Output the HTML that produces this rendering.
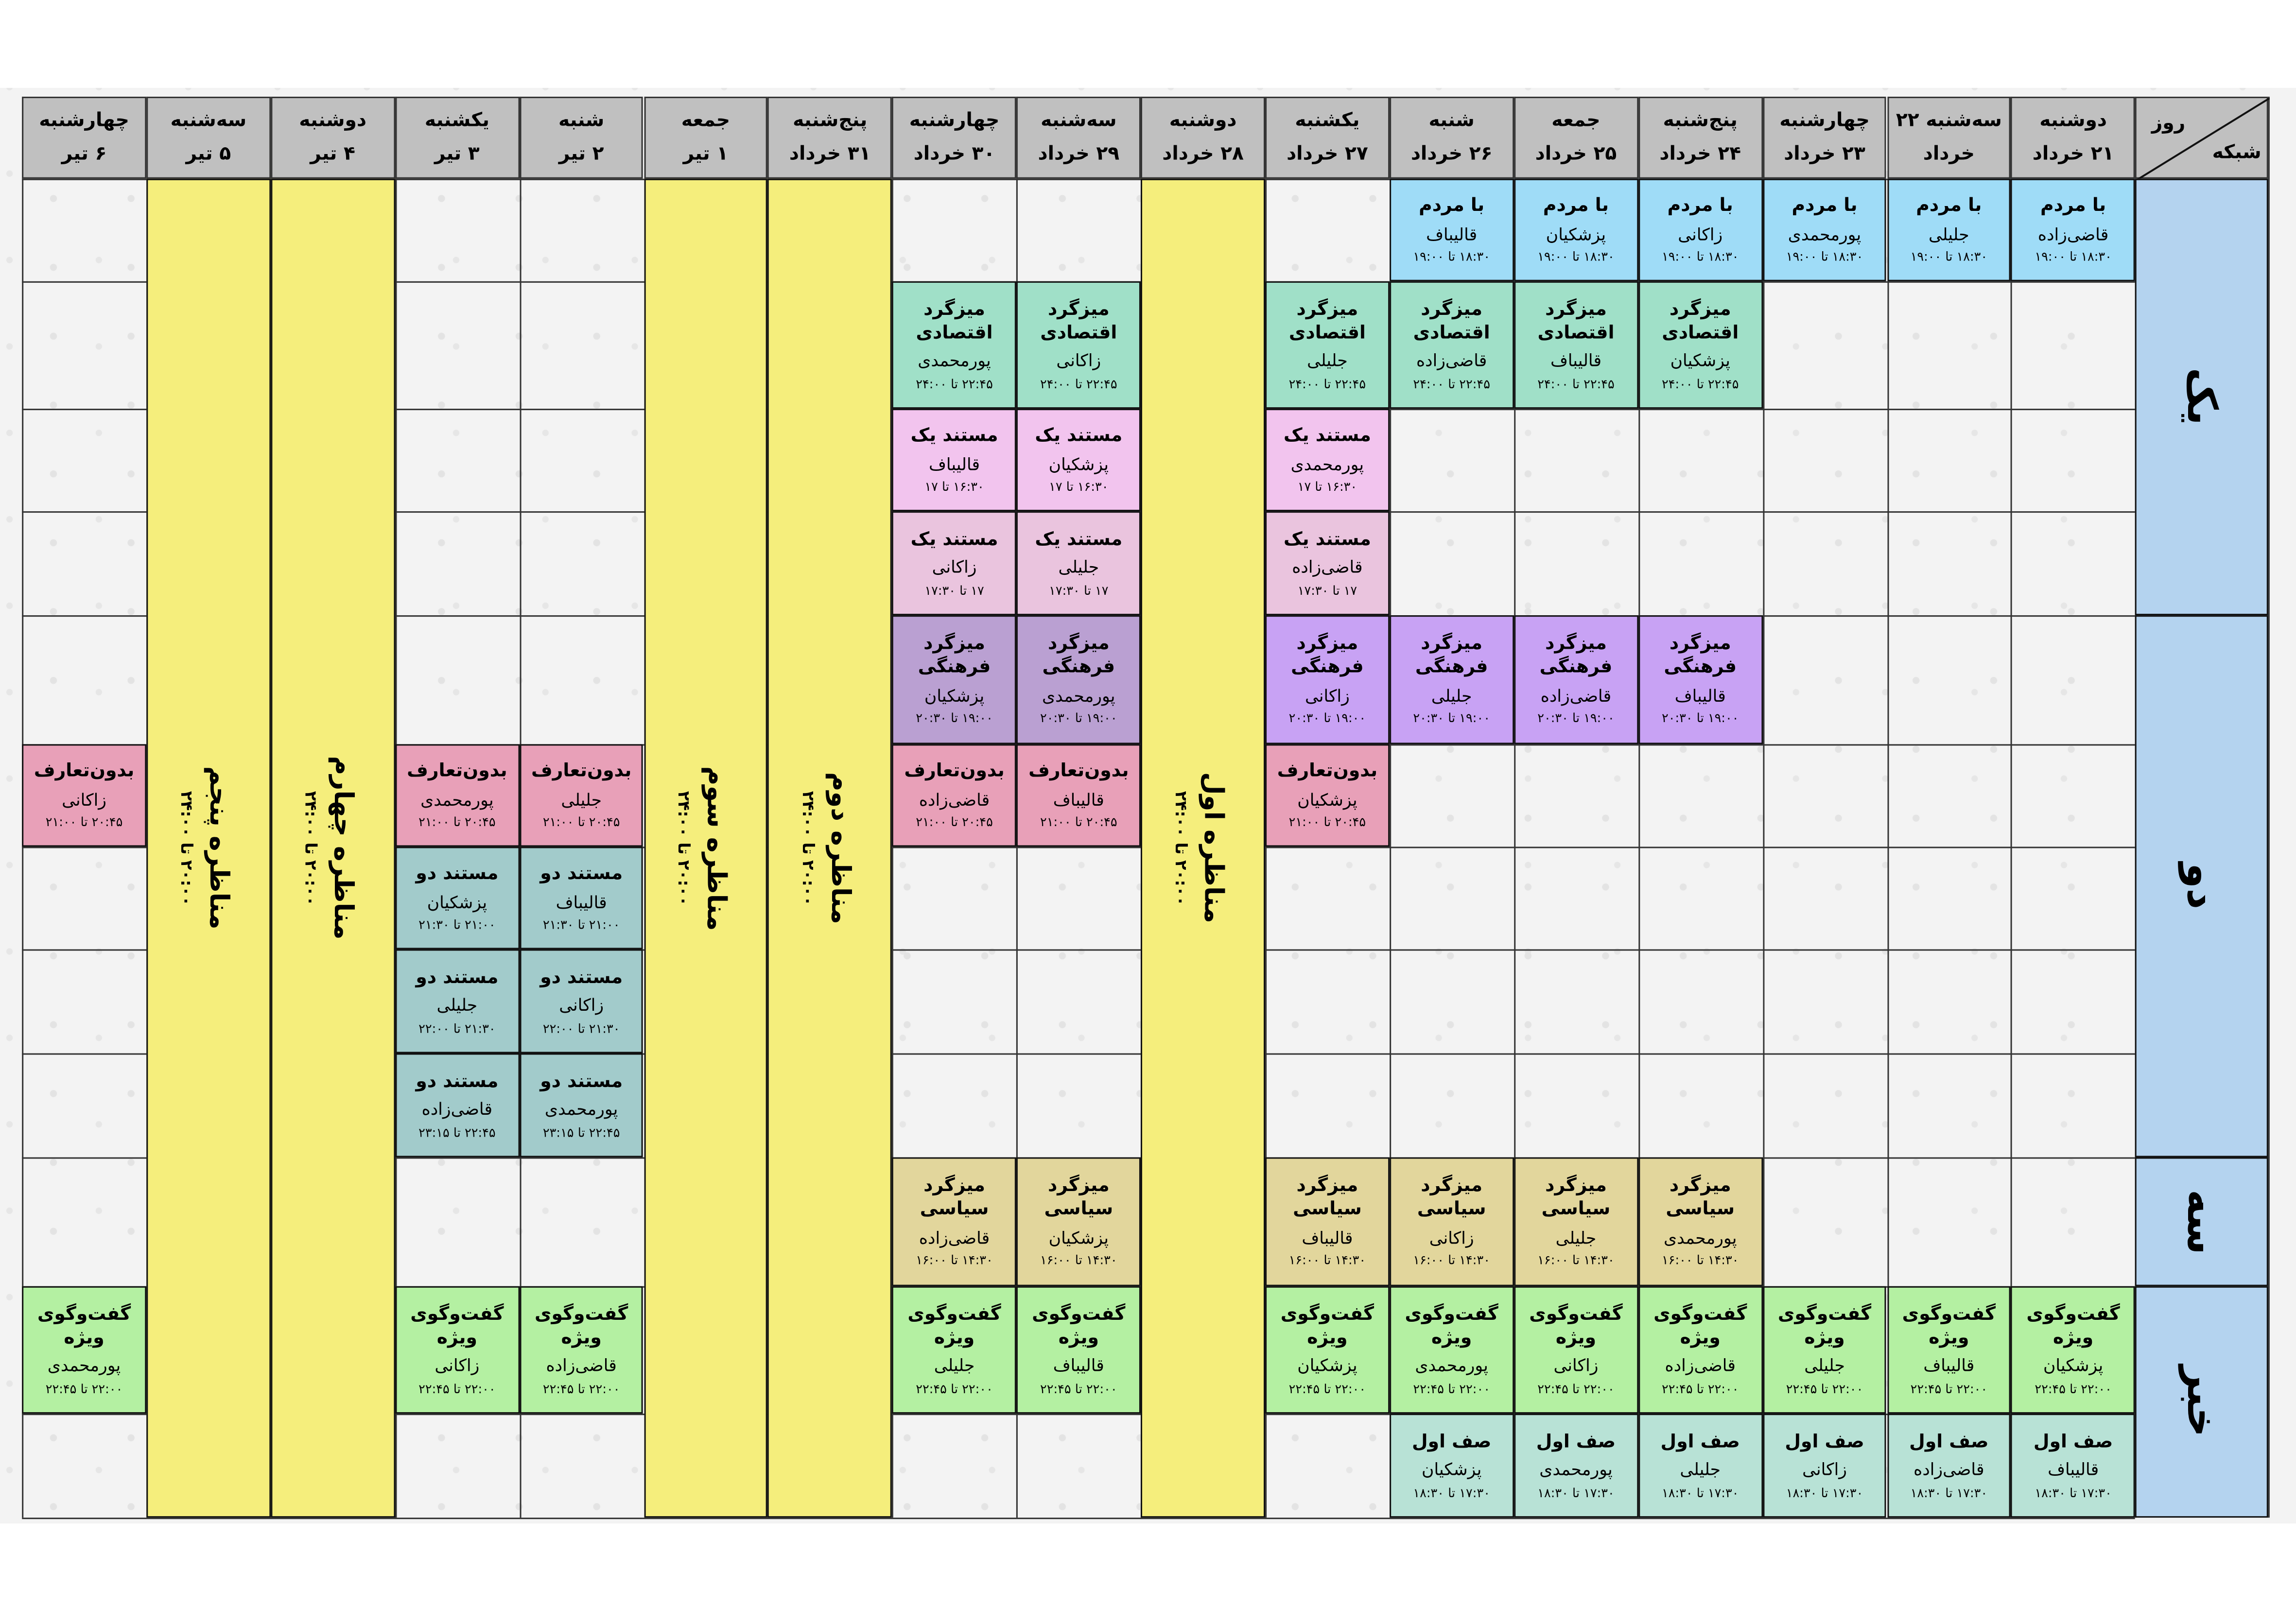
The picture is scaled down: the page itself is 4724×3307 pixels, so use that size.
<!DOCTYPE html>
<html><head><meta charset="utf-8">
<style>
html,body{margin:0;padding:0;background:#fff;width:4724px;height:3307px;overflow:hidden}
#w{position:absolute;left:0;top:0;width:1568px;height:1097px;transform:scale(3.0128,3.0146);transform-origin:0 0;font-family:"DejaVu Sans",sans-serif;}
#bg{position:absolute;left:0;top:60px;width:1568px;height:980px;background-color:#f3f3f3;background-image:radial-gradient(circle,#e3e3e3 2.2px,transparent 2.6px),radial-gradient(circle,#e6e6e6 2px,transparent 2.4px);background-size:53px 47px,61px 59px;background-position:10px 5px,37px 29px}
.v{position:absolute;top:66px;width:1px;height:970px;background:#333}
.h{position:absolute;left:15px;width:1443px;height:1px;background:#333}
.c{position:absolute;box-sizing:border-box;border:1.6px solid #111;width:84.9px;text-align:center;display:flex;flex-direction:column;justify-content:center;direction:rtl;line-height:1.25}
.c b{font-size:12.5px;font-weight:bold}
.c span{font-size:11.5px;margin-top:5px}
.c i{font-style:normal;font-size:8.5px;margin-top:4px}
.hd{position:absolute;top:66px;height:56px;width:84.9px;box-sizing:border-box;border:1.2px solid #333;background:#c0c0c0;text-align:center;font-weight:bold;font-size:13px;line-height:23px;padding-top:4px;direction:rtl}
.B{background:#9fdcf7}.G{background:#a0e0c8}.P{background:#f2c4ee}.Q{background:#eac4de}.U{background:#c8a2f4}.UU{background:#baa0d2}.R{background:#e8a0b8}.T{background:#a2cbcb}.S{background:#e2d69c}.L{background:#b4f0a2}.M{background:#b8e2d6}
.y{position:absolute;top:122px;height:914px;width:84.9px;box-sizing:border-box;border:1.6px solid #111;background:#f5ee7c;writing-mode:vertical-rl;direction:rtl;text-align:center;padding-right:24px;line-height:22px}
.y b{font-size:18px}
.y span{font-size:11px;font-weight:bold}
.n{position:absolute;left:1458.3px;width:91px;box-sizing:border-box;border:1.6px solid #111;background:#b4d3ef;display:flex;align-items:center;justify-content:center;writing-mode:vertical-rl;font-weight:bold;font-size:28px}
</style></head><body><div id="w">
<div id="bg"></div>
<div class="v" style="left:15px"></div><div class="v" style="left:99.9px"></div><div class="v" style="left:269.7px"></div><div class="v" style="left:354.6px"></div><div class="v" style="left:439.5px"></div><div class="v" style="left:609.3px"></div><div class="v" style="left:694.2px"></div><div class="v" style="left:779.1px"></div><div class="v" style="left:864px"></div><div class="v" style="left:948.9px"></div><div class="v" style="left:1033.8px"></div><div class="v" style="left:1118.7px"></div><div class="v" style="left:1203.6px"></div><div class="v" style="left:1288.5px"></div><div class="v" style="left:1373.4px"></div><div class="v" style="left:1458.3px"></div><div class="v" style="left:1549px"></div>
<div class="h" style="top:122px"></div><div class="h" style="top:192px"></div><div class="h" style="top:279px"></div><div class="h" style="top:349px"></div><div class="h" style="top:420px"></div><div class="h" style="top:508px"></div><div class="h" style="top:578px"></div><div class="h" style="top:648px"></div><div class="h" style="top:719px"></div><div class="h" style="top:790px"></div><div class="h" style="top:878px"></div><div class="h" style="top:965px"></div><div class="h" style="top:1036px"></div>
<div class="hd" style="left:15px">چهارشنبه<br>۶ تیر</div>
<div class="hd" style="left:99.9px">سه‌شنبه<br>۵ تیر</div>
<div class="hd" style="left:184.8px">دوشنبه<br>۴ تیر</div>
<div class="hd" style="left:269.7px">یکشنبه<br>۳ تیر</div>
<div class="hd" style="left:354.6px">شنبه<br>۲ تیر</div>
<div class="hd" style="left:439.5px">جمعه<br>۱ تیر</div>
<div class="hd" style="left:524.4px">پنج‌شنبه<br>۳۱ خرداد</div>
<div class="hd" style="left:609.3px">چهارشنبه<br>۳۰ خرداد</div>
<div class="hd" style="left:694.2px">سه‌شنبه<br>۲۹ خرداد</div>
<div class="hd" style="left:779.1px">دوشنبه<br>۲۸ خرداد</div>
<div class="hd" style="left:864px">یکشنبه<br>۲۷ خرداد</div>
<div class="hd" style="left:948.9px">شنبه<br>۲۶ خرداد</div>
<div class="hd" style="left:1033.8px">جمعه<br>۲۵ خرداد</div>
<div class="hd" style="left:1118.7px">پنج‌شنبه<br>۲۴ خرداد</div>
<div class="hd" style="left:1203.6px">چهارشنبه<br>۲۳ خرداد</div>
<div class="hd" style="left:1288.5px">سه‌شنبه ۲۲<br>خرداد</div>
<div class="hd" style="left:1373.4px">دوشنبه<br>۲۱ خرداد</div>
<div class="hd" style="left:1458.3px;width:91px;padding:0">
<svg width="91" height="56" style="position:absolute;left:0;top:0"><line x1="0" y1="56" x2="91" y2="0" stroke="#111" stroke-width="1.3"/></svg>
<div style="position:absolute;left:10px;top:6px;font-size:13px">روز</div>
<div style="position:absolute;right:4px;top:26px;font-size:13px">شبکه</div></div>
<div class="n" style="top:122px;height:298px">یک</div>
<div class="n" style="top:420px;height:370px">دو</div>
<div class="n" style="top:790px;height:88px">سه</div>
<div class="n" style="top:878px;height:158px">خبر</div>
<div class="y" style="left:99.9px"><b>مناظره پنجم</b><br><span>۲۰:۰۰ تا ۲۴:۰۰</span></div>
<div class="y" style="left:184.8px"><b>مناظره چهارم</b><br><span>۲۰:۰۰ تا ۲۴:۰۰</span></div>
<div class="y" style="left:439.5px"><b>مناظره سوم</b><br><span>۲۰:۰۰ تا ۲۴:۰۰</span></div>
<div class="y" style="left:524.4px"><b>مناظره دوم</b><br><span>۲۰:۰۰ تا ۲۴:۰۰</span></div>
<div class="y" style="left:779.1px"><b>مناظره اول</b><br><span>۲۰:۰۰ تا ۲۴:۰۰</span></div>
<div class="c B" style="left:1373.4px;top:122px;height:70px"><b>با مردم</b><span>قاضی‌زاده</span><i>۱۸:۳۰ تا ۱۹:۰۰</i></div>
<div class="c B" style="left:1288.5px;top:122px;height:70px"><b>با مردم</b><span>جلیلی</span><i>۱۸:۳۰ تا ۱۹:۰۰</i></div>
<div class="c B" style="left:1203.6px;top:122px;height:70px"><b>با مردم</b><span>پورمحمدی</span><i>۱۸:۳۰ تا ۱۹:۰۰</i></div>
<div class="c B" style="left:1118.7px;top:122px;height:70px"><b>با مردم</b><span>زاکانی</span><i>۱۸:۳۰ تا ۱۹:۰۰</i></div>
<div class="c B" style="left:1033.8px;top:122px;height:70px"><b>با مردم</b><span>پزشکیان</span><i>۱۸:۳۰ تا ۱۹:۰۰</i></div>
<div class="c B" style="left:948.9px;top:122px;height:70px"><b>با مردم</b><span>قالیباف</span><i>۱۸:۳۰ تا ۱۹:۰۰</i></div>
<div class="c G" style="left:1118.7px;top:192px;height:87px"><b>میزگرد<br>اقتصادی</b><span>پزشکیان</span><i>۲۲:۴۵ تا ۲۴:۰۰</i></div>
<div class="c G" style="left:1033.8px;top:192px;height:87px"><b>میزگرد<br>اقتصادی</b><span>قالیباف</span><i>۲۲:۴۵ تا ۲۴:۰۰</i></div>
<div class="c G" style="left:948.9px;top:192px;height:87px"><b>میزگرد<br>اقتصادی</b><span>قاضی‌زاده</span><i>۲۲:۴۵ تا ۲۴:۰۰</i></div>
<div class="c G" style="left:864px;top:192px;height:87px"><b>میزگرد<br>اقتصادی</b><span>جلیلی</span><i>۲۲:۴۵ تا ۲۴:۰۰</i></div>
<div class="c G" style="left:694.2px;top:192px;height:87px"><b>میزگرد<br>اقتصادی</b><span>زاکانی</span><i>۲۲:۴۵ تا ۲۴:۰۰</i></div>
<div class="c G" style="left:609.3px;top:192px;height:87px"><b>میزگرد<br>اقتصادی</b><span>پورمحمدی</span><i>۲۲:۴۵ تا ۲۴:۰۰</i></div>
<div class="c P" style="left:864px;top:279px;height:70px"><b>مستند یک</b><span>پورمحمدی</span><i>۱۶:۳۰ تا ۱۷</i></div>
<div class="c P" style="left:694.2px;top:279px;height:70px"><b>مستند یک</b><span>پزشکیان</span><i>۱۶:۳۰ تا ۱۷</i></div>
<div class="c P" style="left:609.3px;top:279px;height:70px"><b>مستند یک</b><span>قالیباف</span><i>۱۶:۳۰ تا ۱۷</i></div>
<div class="c Q" style="left:864px;top:349px;height:71px"><b>مستند یک</b><span>قاضی‌زاده</span><i>۱۷ تا ۱۷:۳۰</i></div>
<div class="c Q" style="left:694.2px;top:349px;height:71px"><b>مستند یک</b><span>جلیلی</span><i>۱۷ تا ۱۷:۳۰</i></div>
<div class="c Q" style="left:609.3px;top:349px;height:71px"><b>مستند یک</b><span>زاکانی</span><i>۱۷ تا ۱۷:۳۰</i></div>
<div class="c U" style="left:1118.7px;top:420px;height:88px"><b>میزگرد<br>فرهنگی</b><span>قالیباف</span><i>۱۹:۰۰ تا ۲۰:۳۰</i></div>
<div class="c U" style="left:1033.8px;top:420px;height:88px"><b>میزگرد<br>فرهنگی</b><span>قاضی‌زاده</span><i>۱۹:۰۰ تا ۲۰:۳۰</i></div>
<div class="c U" style="left:948.9px;top:420px;height:88px"><b>میزگرد<br>فرهنگی</b><span>جلیلی</span><i>۱۹:۰۰ تا ۲۰:۳۰</i></div>
<div class="c U" style="left:864px;top:420px;height:88px"><b>میزگرد<br>فرهنگی</b><span>زاکانی</span><i>۱۹:۰۰ تا ۲۰:۳۰</i></div>
<div class="c UU" style="left:694.2px;top:420px;height:88px"><b>میزگرد<br>فرهنگی</b><span>پورمحمدی</span><i>۱۹:۰۰ تا ۲۰:۳۰</i></div>
<div class="c UU" style="left:609.3px;top:420px;height:88px"><b>میزگرد<br>فرهنگی</b><span>پزشکیان</span><i>۱۹:۰۰ تا ۲۰:۳۰</i></div>
<div class="c R" style="left:864px;top:508px;height:70px"><b>بدون‌تعارف</b><span>پزشکیان</span><i>۲۰:۴۵ تا ۲۱:۰۰</i></div>
<div class="c R" style="left:694.2px;top:508px;height:70px"><b>بدون‌تعارف</b><span>قالیباف</span><i>۲۰:۴۵ تا ۲۱:۰۰</i></div>
<div class="c R" style="left:609.3px;top:508px;height:70px"><b>بدون‌تعارف</b><span>قاضی‌زاده</span><i>۲۰:۴۵ تا ۲۱:۰۰</i></div>
<div class="c R" style="left:354.6px;top:508px;height:70px"><b>بدون‌تعارف</b><span>جلیلی</span><i>۲۰:۴۵ تا ۲۱:۰۰</i></div>
<div class="c R" style="left:269.7px;top:508px;height:70px"><b>بدون‌تعارف</b><span>پورمحمدی</span><i>۲۰:۴۵ تا ۲۱:۰۰</i></div>
<div class="c R" style="left:15px;top:508px;height:70px"><b>بدون‌تعارف</b><span>زاکانی</span><i>۲۰:۴۵ تا ۲۱:۰۰</i></div>
<div class="c T" style="left:354.6px;top:578px;height:70px"><b>مستند دو</b><span>قالیباف</span><i>۲۱:۰۰ تا ۲۱:۳۰</i></div>
<div class="c T" style="left:269.7px;top:578px;height:70px"><b>مستند دو</b><span>پزشکیان</span><i>۲۱:۰۰ تا ۲۱:۳۰</i></div>
<div class="c T" style="left:354.6px;top:648px;height:71px"><b>مستند دو</b><span>زاکانی</span><i>۲۱:۳۰ تا ۲۲:۰۰</i></div>
<div class="c T" style="left:269.7px;top:648px;height:71px"><b>مستند دو</b><span>جلیلی</span><i>۲۱:۳۰ تا ۲۲:۰۰</i></div>
<div class="c T" style="left:354.6px;top:719px;height:71px"><b>مستند دو</b><span>پورمحمدی</span><i>۲۲:۴۵ تا ۲۳:۱۵</i></div>
<div class="c T" style="left:269.7px;top:719px;height:71px"><b>مستند دو</b><span>قاضی‌زاده</span><i>۲۲:۴۵ تا ۲۳:۱۵</i></div>
<div class="c S" style="left:1118.7px;top:790px;height:88px"><b>میزگرد<br>سیاسی</b><span>پورمحمدی</span><i>۱۴:۳۰ تا ۱۶:۰۰</i></div>
<div class="c S" style="left:1033.8px;top:790px;height:88px"><b>میزگرد<br>سیاسی</b><span>جلیلی</span><i>۱۴:۳۰ تا ۱۶:۰۰</i></div>
<div class="c S" style="left:948.9px;top:790px;height:88px"><b>میزگرد<br>سیاسی</b><span>زاکانی</span><i>۱۴:۳۰ تا ۱۶:۰۰</i></div>
<div class="c S" style="left:864px;top:790px;height:88px"><b>میزگرد<br>سیاسی</b><span>قالیباف</span><i>۱۴:۳۰ تا ۱۶:۰۰</i></div>
<div class="c S" style="left:694.2px;top:790px;height:88px"><b>میزگرد<br>سیاسی</b><span>پزشکیان</span><i>۱۴:۳۰ تا ۱۶:۰۰</i></div>
<div class="c S" style="left:609.3px;top:790px;height:88px"><b>میزگرد<br>سیاسی</b><span>قاضی‌زاده</span><i>۱۴:۳۰ تا ۱۶:۰۰</i></div>
<div class="c L" style="left:1373.4px;top:878px;height:87px"><b>گفت‌وگوی<br>ویژه</b><span>پزشکیان</span><i>۲۲:۰۰ تا ۲۲:۴۵</i></div>
<div class="c L" style="left:1288.5px;top:878px;height:87px"><b>گفت‌وگوی<br>ویژه</b><span>قالیباف</span><i>۲۲:۰۰ تا ۲۲:۴۵</i></div>
<div class="c L" style="left:1203.6px;top:878px;height:87px"><b>گفت‌وگوی<br>ویژه</b><span>جلیلی</span><i>۲۲:۰۰ تا ۲۲:۴۵</i></div>
<div class="c L" style="left:1118.7px;top:878px;height:87px"><b>گفت‌وگوی<br>ویژه</b><span>قاضی‌زاده</span><i>۲۲:۰۰ تا ۲۲:۴۵</i></div>
<div class="c L" style="left:1033.8px;top:878px;height:87px"><b>گفت‌وگوی<br>ویژه</b><span>زاکانی</span><i>۲۲:۰۰ تا ۲۲:۴۵</i></div>
<div class="c L" style="left:948.9px;top:878px;height:87px"><b>گفت‌وگوی<br>ویژه</b><span>پورمحمدی</span><i>۲۲:۰۰ تا ۲۲:۴۵</i></div>
<div class="c L" style="left:864px;top:878px;height:87px"><b>گفت‌وگوی<br>ویژه</b><span>پزشکیان</span><i>۲۲:۰۰ تا ۲۲:۴۵</i></div>
<div class="c L" style="left:694.2px;top:878px;height:87px"><b>گفت‌وگوی<br>ویژه</b><span>قالیباف</span><i>۲۲:۰۰ تا ۲۲:۴۵</i></div>
<div class="c L" style="left:609.3px;top:878px;height:87px"><b>گفت‌وگوی<br>ویژه</b><span>جلیلی</span><i>۲۲:۰۰ تا ۲۲:۴۵</i></div>
<div class="c L" style="left:354.6px;top:878px;height:87px"><b>گفت‌وگوی<br>ویژه</b><span>قاضی‌زاده</span><i>۲۲:۰۰ تا ۲۲:۴۵</i></div>
<div class="c L" style="left:269.7px;top:878px;height:87px"><b>گفت‌وگوی<br>ویژه</b><span>زاکانی</span><i>۲۲:۰۰ تا ۲۲:۴۵</i></div>
<div class="c L" style="left:15px;top:878px;height:87px"><b>گفت‌وگوی<br>ویژه</b><span>پورمحمدی</span><i>۲۲:۰۰ تا ۲۲:۴۵</i></div>
<div class="c M" style="left:1373.4px;top:965px;height:71px"><b>صف اول</b><span>قالیباف</span><i>۱۷:۳۰ تا ۱۸:۳۰</i></div>
<div class="c M" style="left:1288.5px;top:965px;height:71px"><b>صف اول</b><span>قاضی‌زاده</span><i>۱۷:۳۰ تا ۱۸:۳۰</i></div>
<div class="c M" style="left:1203.6px;top:965px;height:71px"><b>صف اول</b><span>زاکانی</span><i>۱۷:۳۰ تا ۱۸:۳۰</i></div>
<div class="c M" style="left:1118.7px;top:965px;height:71px"><b>صف اول</b><span>جلیلی</span><i>۱۷:۳۰ تا ۱۸:۳۰</i></div>
<div class="c M" style="left:1033.8px;top:965px;height:71px"><b>صف اول</b><span>پورمحمدی</span><i>۱۷:۳۰ تا ۱۸:۳۰</i></div>
<div class="c M" style="left:948.9px;top:965px;height:71px"><b>صف اول</b><span>پزشکیان</span><i>۱۷:۳۰ تا ۱۸:۳۰</i></div>
</div></body></html>
